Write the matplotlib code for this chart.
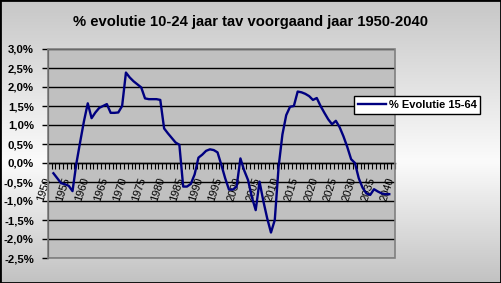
import matplotlib
matplotlib.use('Agg')
import matplotlib.pyplot as plt
import numpy as np
from matplotlib.patches import Rectangle
from matplotlib.lines import Line2D
from matplotlib.transforms import ScaledTranslation

# ---- data ----
years = list(range(1951, 2040))
values = [
    -0.27, -0.40, -0.53, -0.56, -0.60, -0.74, -0.02, 0.55, 1.10,           # 1951-1959
    1.57, 1.18, 1.33, 1.45, 1.50, 1.55, 1.32, 1.32, 1.33, 1.50,            # 1960-1969
    2.38, 2.25, 2.15, 2.07, 1.99, 1.70, 1.68, 1.68, 1.68, 1.66,            # 1970-1979
    0.91, 0.78, 0.66, 0.54, 0.48, -0.62, -0.62, -0.55, -0.30, 0.14,        # 1980-1989
    0.22, 0.32, 0.36, 0.34, 0.28, -0.05, -0.40, -0.70, -0.70, -0.62,       # 1990-1999
    0.12, -0.20, -0.45, -0.90, -1.24, -0.49, -1.00, -1.45, -1.83, -1.50,   # 2000-2009
    -0.10, 0.75, 1.26, 1.48, 1.50, 1.88, 1.86, 1.82, 1.76, 1.66,           # 2010-2019
    1.71, 1.50, 1.32, 1.15, 1.02, 1.11, 0.94, 0.70, 0.42, 0.10,            # 2020-2029
    0.00, -0.40, -0.65, -0.80, -0.84, -0.69, -0.75, -0.80, -0.82, -0.82,   # 2030-2039
]
title = '% evolutie 10-24 jaar tav voorgaand jaar 1950-2040'
series_label = '% Evolutie 15-64'
y_ticks = [-2.5, -2.0, -1.5, -1.0, -0.5, 0.0, 0.5, 1.0, 1.5, 2.0, 2.5, 3.0]
y_tick_labels = ['-2,5%', '-2,0%', '-1,5%', '-1,0%', '-0,5%', '0,0%',
                 '0,5%', '1,0%', '1,5%', '2,0%', '2,5%', '3,0%']
x_label_years = list(range(1950, 2041, 5))
x_tick_labels = [str(y) for y in x_label_years]

W, H = 501, 283
fig = plt.figure(figsize=(W / 100, H / 100), dpi=100)

# background gradient (vertical: gray -> near white -> gray)
bg = fig.add_axes([0, 0, 1, 1], zorder=0)
bg.axis('off')
yy = np.linspace(0, 1, 300)
peak = 0.57
top_c, mid_c, bot_c = 0.78, 0.985, 0.76
col = np.where(yy < peak,
               top_c + (mid_c - top_c) * (yy / peak),
               mid_c + (bot_c - mid_c) * ((yy - peak) / (1 - peak)))
img = np.repeat(col[:, None], 2, axis=1)
img = np.dstack([img, img, img])
bg.imshow(img, aspect='auto', extent=[0, 1, 0, 1], origin='upper')
bg.set_xlim(0, 1)
bg.set_ylim(0, 1)

fig.patches.append(Rectangle((0, 0), 1, 1, transform=fig.transFigure,
                             fill=False, edgecolor='black', lw=2, zorder=10))

# plot area
left, right, top, bottom = 47.7, 395, 49, 258
ax = fig.add_axes([left / W, 1 - bottom / H, (right - left) / W, (bottom - top) / H],
                  zorder=1)
ax.set_facecolor('#c0c0c0')
ax.plot(years, values, color='#000080', lw=1.7, label=series_label, zorder=3)
ax.set_xlim(1949.5, 2040.5)
ax.set_ylim(-2.5, 3.0)

ax.set_yticks(y_ticks)
ax.set_yticklabels(y_tick_labels, fontsize=8.2, fontweight='bold', family='Liberation Sans')
ax.tick_params(axis='y', direction='out', length=4, width=1, color='black', pad=6)
ax.yaxis.grid(True, color='black', lw=1)
ax.set_axisbelow(True)

ax.spines['bottom'].set_position(('data', 0))
ax.spines['bottom'].set_color('black')
ax.spines['bottom'].set_linewidth(1)
ax.spines['left'].set_color('black')
ax.spines['top'].set_visible(False)
ax.spines['right'].set_visible(False)

ax.set_xticks(x_label_years)
ax.set_xticklabels(x_tick_labels, rotation=72, ha='right', va='center',
                   rotation_mode='anchor', fontsize=8, family='Liberation Sans')
ax.tick_params(axis='x', which='major', length=0, pad=10.5)
shift = ScaledTranslation(-2 / 100, 0, fig.dpi_scale_trans)
for lbl in ax.get_xticklabels():
    lbl.set_transform(lbl.get_transform() + shift)
ax.set_xticks(np.arange(1949.5, 2041, 1), minor=True)
ax.tick_params(axis='x', which='minor', direction='out', length=4, width=0.8, color='black')

ax.add_patch(Rectangle((0, 0), 1, 1, transform=ax.transAxes, fill=False,
                       edgecolor='#808080', lw=1.2, clip_on=False, zorder=4))

fig.text(0.5, 1 - 22 / H, title, ha='center', va='center', fontsize=10.6,
         fontweight='bold', family='Liberation Sans')

handle = Line2D([], [], color='#000080', lw=1.7)
leg = fig.legend([handle], [series_label], loc='center',
                 bbox_to_anchor=(417 / W, 1 - 105 / H),
                 prop={'family': 'Liberation Sans', 'weight': 'bold', 'size': 8},
                 frameon=True, fancybox=False, framealpha=1, edgecolor='black',
                 facecolor='white', handlelength=2.6, handletextpad=0.2,
                 borderpad=0.35, borderaxespad=0)
leg.get_frame().set_linewidth(1)

fig.savefig('out.png', dpi=100)
